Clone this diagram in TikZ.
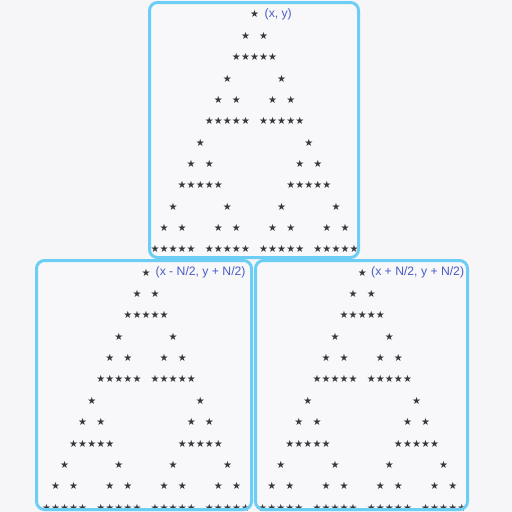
\documentclass[tikz,border=0pt]{standalone}
\usepackage{fontspec}
\newfontfamily\starfont{DejaVu Sans}
\newfontfamily\labelfont{Liberation Sans}
\definecolor{pagebg}{RGB}{246,246,249}
\definecolor{boxbg}{RGB}{248,248,251}
\definecolor{boxline}{RGB}{108,206,245}
\definecolor{starcol}{RGB}{55,55,58}
\definecolor{labelcol}{RGB}{72,92,196}
\newcommand{\sierpbox}[2]{%
  \foreach \ar/\ac in {0/0,6/-6,6/6}{%
    \foreach \br/\bc in {0/0,3/-3,3/3}{%
      \foreach \dr/\dc in {0/0,1/-1,1/1,2/-2,2/-1,2/0,2/1,2/2}{%
        \node[starnode] at ({#1+(11+\ac+\bc+\dc)*9.05},{#2+(\ar+\br+\dr)*21.35}) {★};
      }}}}
\begin{document}
\begin{tikzpicture}[x=1pt,y=-1pt,
  starnode/.style={inner sep=0pt,text=starcol,font=\starfont\fontsize{10}{11}\selectfont},
  panel/.style={draw=boxline,line width=3pt,rounded corners=8pt},
  coordlabel/.style={anchor=west,inner sep=0pt,text=labelcol,font=\labelfont\fontsize{12.2}{14}\selectfont}]
\useasboundingbox[fill=pagebg] (0,0) rectangle (512,512);
% top panel
\fill[boxbg,rounded corners=8pt] (149.5,2.5) rectangle (358.5,257.5);
\sierpbox{155}{14.4}
\node[coordlabel] (ltop) at (264.5,14.6) {(x, y)};
\draw[panel] (149.5,2.5) rectangle (358.5,257.5);
% bottom left panel
\fill[boxbg,rounded corners=8pt] (36.5,260.5) rectangle (251.5,509.5);
\sierpbox{46.5}{272.6}
\node[coordlabel] (lleft) at (155.5,272.8) {(x - N/2, y + N/2)};
\draw[panel] (36.5,260.5) rectangle (251.5,509.5);
% bottom right panel
\fill[boxbg,rounded corners=8pt] (255.5,260.5) rectangle (467.5,509.5);
\sierpbox{262.7}{272.6}
\node[coordlabel] (lright) at (371,272.8) {(x + N/2, y + N/2)};
\draw[panel] (255.5,260.5) rectangle (467.5,509.5);
\end{tikzpicture}
\end{document}
